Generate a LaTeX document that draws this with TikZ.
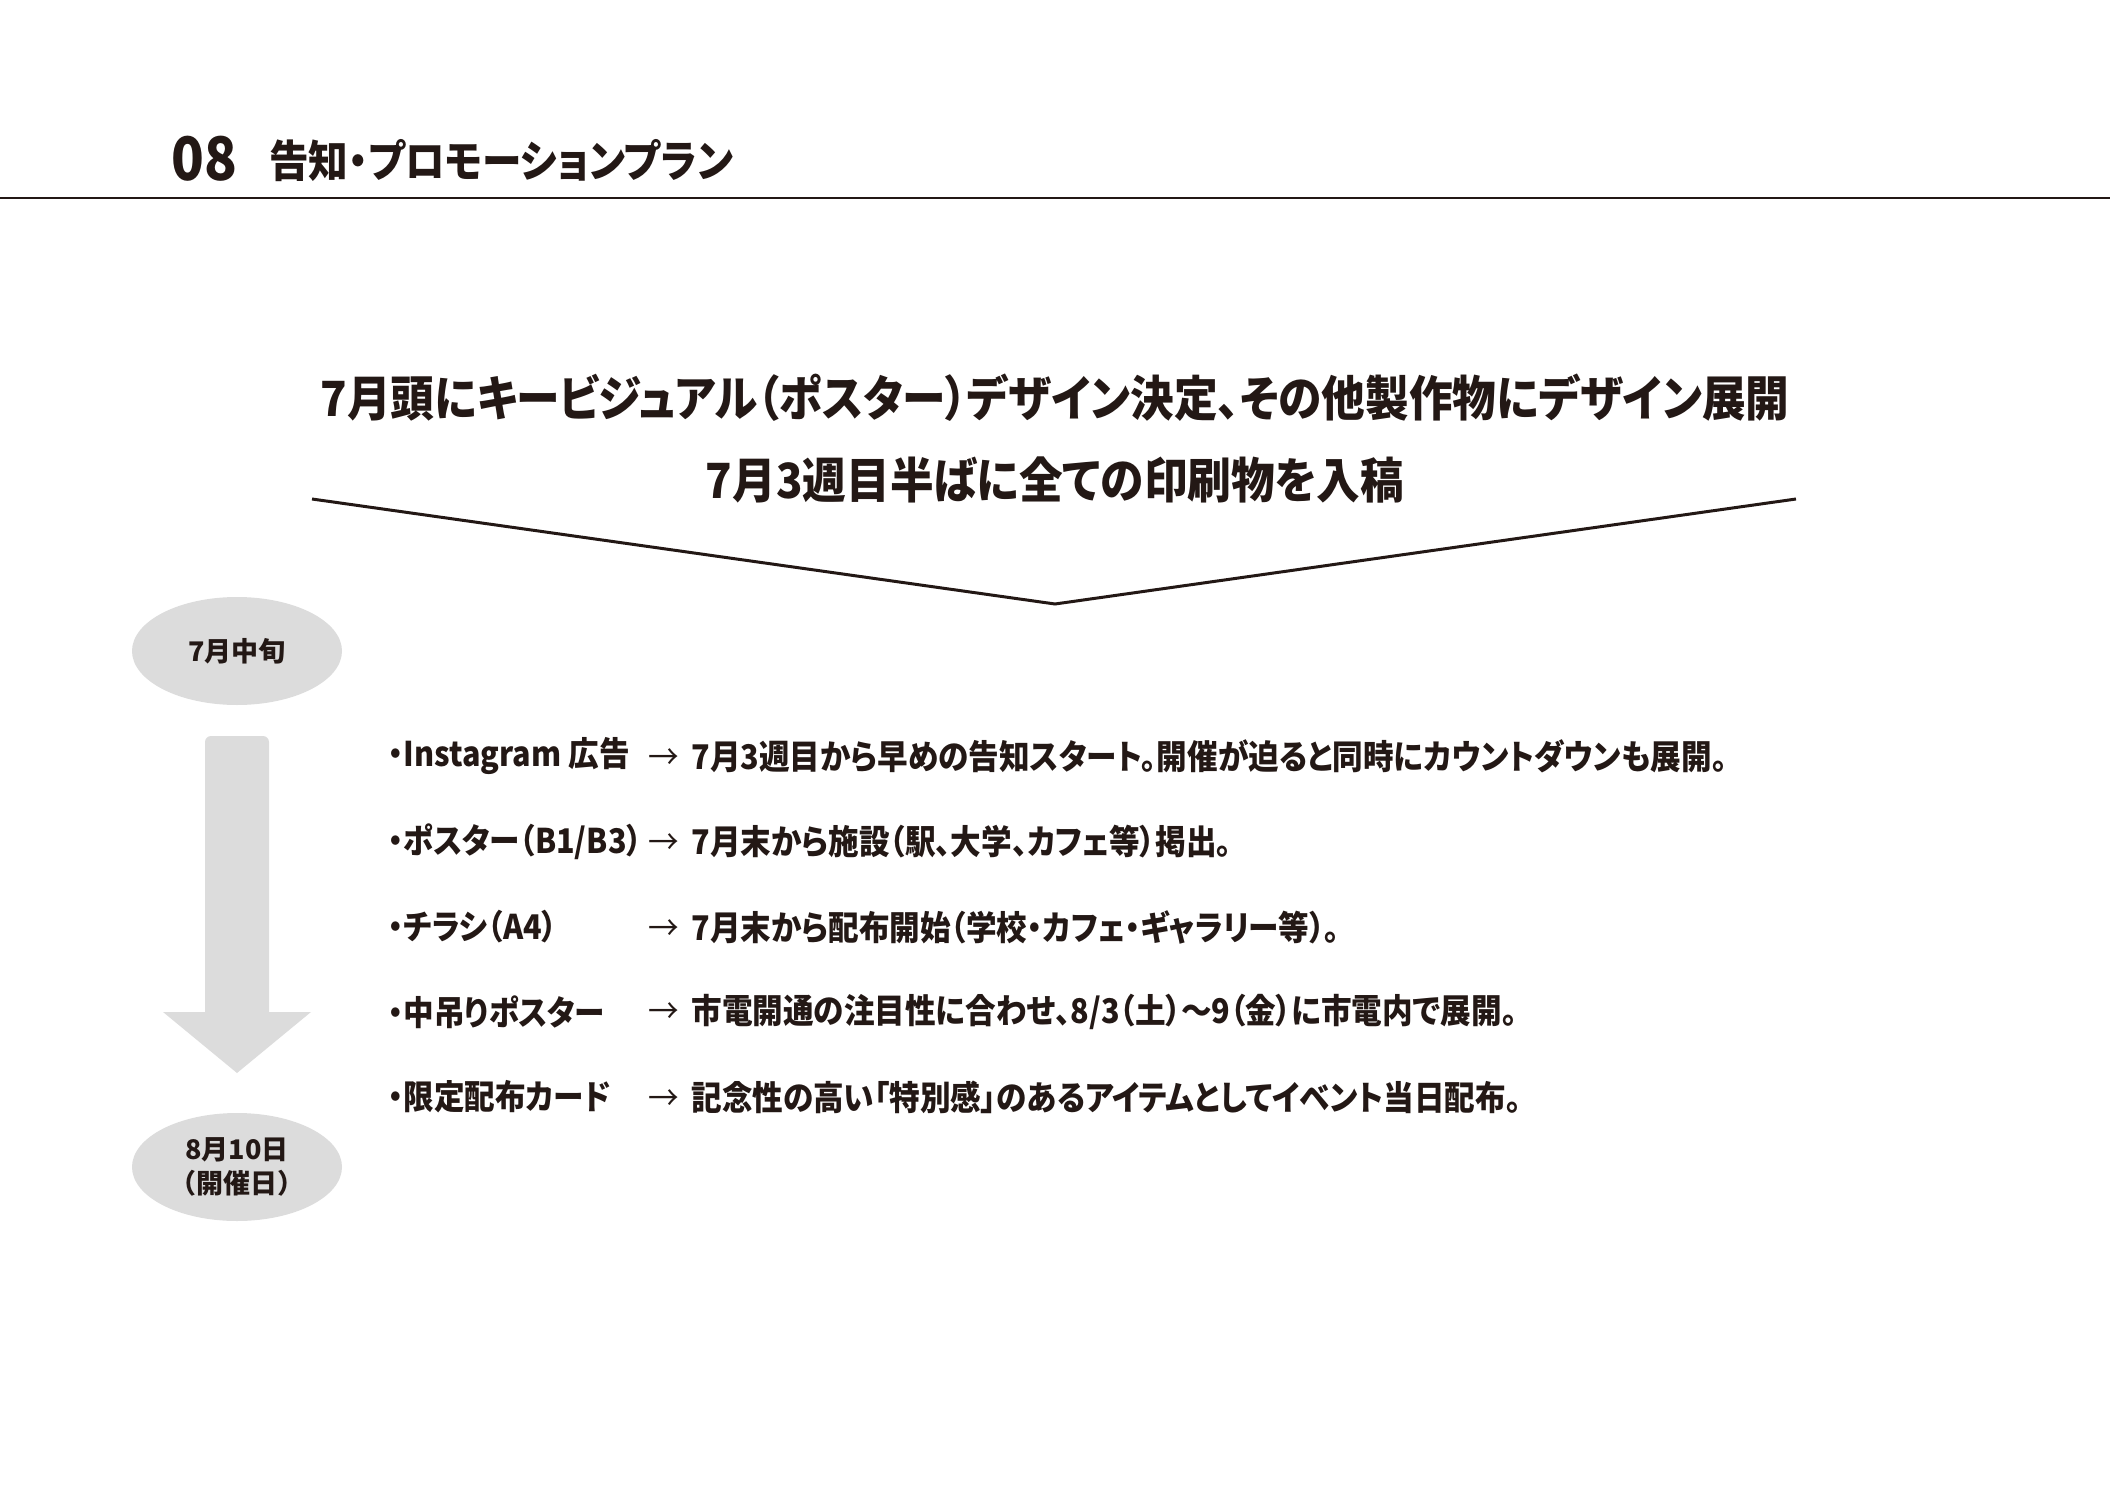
\documentclass[tikz,border=0pt]{standalone}
\usepackage{fontspec}
\setmainfont{Noto Sans CJK JP}[FakeStretch=0.9,RawFeature={+palt}]
\newfontfamily\roundjp{Noto Sans CJK JP}
\usetikzlibrary{shapes.geometric}
\definecolor{ink}{HTML}{231815}
\definecolor{pale}{HTML}{DCDCDC}
\newcommand{\pxsize}[1]{\fontsize{#1}{#1}\selectfont}

\begin{document}
\begin{tikzpicture}[x=1pt,y=-1pt,
    lead/.style={inner sep=0pt, text=ink, font=\pxsize{48.5}\bfseries},
    itemtext/.style={anchor=west, inner sep=0pt, text=ink, font=\pxsize{34}\bfseries},
    datebubble/.style={ellipse, fill=pale, minimum width=210pt, minimum height=108pt,
      inner sep=0pt, text=ink, align=center, font=\roundjp\fontsize{27}{34}\selectfont\bfseries}]
  \useasboundingbox (0,0) rectangle (2110,1490);
  % header
  \node [anchor=west, inner sep=0pt, text=ink, font=\pxsize{60}\bfseries] (num) at (171,159) {08};
  \node [anchor=west, inner sep=0pt, text=ink, font=\pxsize{44}\bfseries] (head) at (269,161) {告知・プロモーションプラン};
  \draw [ink, line width=2pt] (0,198) -- (2110,198);
  % lead text and chevron
  \node [lead] (lead1) at (1055,398) {7月頭にキービジュアル（ポスター）デザイン決定、その他製作物にデザイン展開};
  \node [lead] (lead2) at (1055,480) {7月3週目半ばに全ての印刷物を入稿};
  \draw [ink, line width=3pt] (312,499) -- (1055,604) -- (1796,499);
  % timeline
  \node [datebubble] (mid) at (237,651) {7月中旬};
  \node [datebubble] (day) at (237,1167) {8月10日\\（開催日）};
  \fill [pale] (205,1012) [rounded corners=6pt] -- (205,736) -- (269,736) [sharp corners] -- (269,1012)
    -- (311,1012) -- (237,1073) -- (163,1012) -- cycle;
  % items
  \node [itemtext] (lab1) at (388,756) {・Instagram 広告};
  \node [itemtext] (note1) at (648,756) {{\mdseries →}\, 7月3週目から早めの告知スタート。開催が迫ると同時にカウントダウンも展開。};
  \node [itemtext] (lab2) at (388,842) {・ポスター（B1/B3）};
  \node [itemtext] (note2) at (648,842) {{\mdseries →}\, 7月末から施設（駅、大学、カフェ等）掲出。};
  \node [itemtext] (lab3) at (388,927) {・チラシ（A4）};
  \node [itemtext] (note3) at (648,927) {{\mdseries →}\, 7月末から配布開始（学校・カフェ・ギャラリー等）。};
  \node [itemtext] (lab4) at (388,1012) {・中吊りポスター};
  \node [itemtext] (note4) at (648,1012) {{\mdseries →}\, 市電開通の注目性に合わせ、8/3（土）〜9（金）に市電内で展開。};
  \node [itemtext] (lab5) at (388,1097) {・限定配布カード};
  \node [itemtext] (note5) at (648,1097) {{\mdseries →}\, 記念性の高い「特別感」のあるアイテムとしてイベント当日配布。};
\end{tikzpicture}
\end{document}
